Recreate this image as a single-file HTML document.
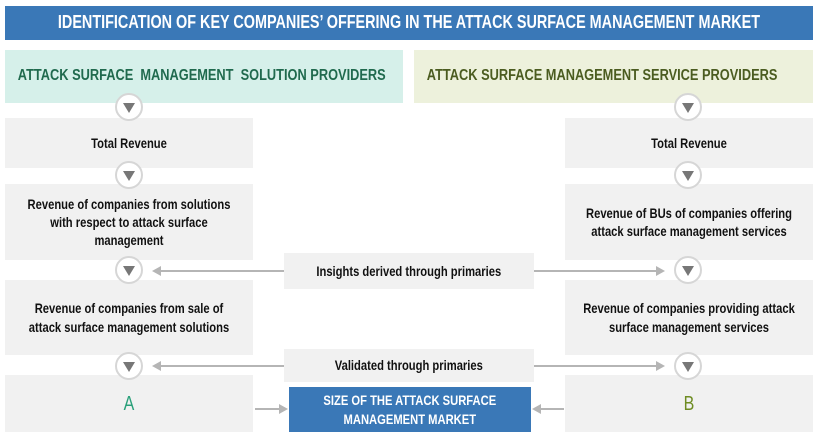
<!DOCTYPE html>
<html><head><meta charset="utf-8"><style>
*{margin:0;padding:0;box-sizing:border-box}
body{width:819px;height:436px;background:#fff;position:relative;overflow:hidden;font-family:"Liberation Sans",sans-serif}
.b{position:absolute;overflow:hidden}
.t{position:absolute;left:0;top:0;height:100%;display:flex;align-items:center;justify-content:center;text-align:center;transform-origin:0 0;transform:scaleX(.8);font-weight:bold;line-height:1.3}
.g{background:#f1f1f1}
.c{position:absolute;width:28px;height:28px;border-radius:50%;background:#fff;border:2.5px solid #d6d6d6}
.c:after{content:"";position:absolute;left:6px;top:8px;border-left:6px solid transparent;border-right:6px solid transparent;border-top:10px solid #777}
.l{position:absolute;height:2px;background:#b5b5b5}
.al:before{content:"";position:absolute;left:-8px;top:-4px;border-top:5px solid transparent;border-bottom:5px solid transparent;border-right:9px solid #b5b5b5}
.ar:after{content:"";position:absolute;right:-8px;top:-4px;border-top:5px solid transparent;border-bottom:5px solid transparent;border-left:9px solid #b5b5b5}
</style></head><body>
<div class="b" style="left:5px;top:6px;width:808px;height:34px;background:#3a78b7"><div class="t" style="width:1010px;color:#fff;font-size:18px">IDENTIFICATION OF KEY COMPANIES’ OFFERING IN THE ATTACK SURFACE MANAGEMENT MARKET</div></div>
<div class="b" style="left:5px;top:50px;width:398px;height:53px;background:#d6f0ea"><div class="t" style="width:497px;justify-content:flex-start;padding-left:16px;color:#206a4e;font-size:16px">ATTACK SURFACE&nbsp; MANAGEMENT&nbsp; SOLUTION PROVIDERS</div></div>
<div class="b" style="left:414px;top:50px;width:399px;height:53px;background:#edf1dc"><div class="t" style="width:499px;justify-content:flex-start;padding-left:16px;color:#4b5c20;font-size:16px">ATTACK SURFACE MANAGEMENT SERVICE PROVIDERS</div></div>

<div class="b g" style="left:5px;top:118px;width:248px;height:50px"><div class="t" style="width:310px;font-size:14px;color:#111">Total Revenue</div></div>
<div class="b g" style="left:5px;top:184px;width:248px;height:76px"><div class="t" style="width:310px;font-size:14px;color:#111">Revenue of companies from solutions<br>with respect to attack surface<br>management</div></div>
<div class="b g" style="left:5px;top:280px;width:248px;height:75px"><div class="t" style="width:310px;font-size:14px;color:#111">Revenue of companies from sale of<br>attack surface management solutions</div></div>
<div class="b g" style="left:5px;top:375px;width:248px;height:57px"><div class="t" style="width:310px;font-size:20px;font-weight:normal;color:#2aa07a">A</div></div>

<div class="b g" style="left:565px;top:118px;width:248px;height:50px"><div class="t" style="width:310px;font-size:14px;color:#111">Total Revenue</div></div>
<div class="b g" style="left:565px;top:184px;width:248px;height:76px"><div class="t" style="width:310px;font-size:14px;color:#111">Revenue of BUs of companies offering<br>attack surface management services</div></div>
<div class="b g" style="left:565px;top:280px;width:248px;height:75px"><div class="t" style="width:310px;font-size:14px;color:#111">Revenue of companies providing attack<br>surface management services</div></div>
<div class="b g" style="left:565px;top:375px;width:248px;height:57px"><div class="t" style="width:310px;font-size:20px;font-weight:normal;color:#6e8c22">B</div></div>

<div class="b g" style="left:284px;top:253px;width:250px;height:36px"><div class="t" style="width:312px;font-size:14px;color:#111">Insights derived through primaries</div></div>
<div class="b g" style="left:284px;top:349px;width:250px;height:33px"><div class="t" style="width:312px;font-size:14px;color:#111">Validated through primaries</div></div>
<div class="b" style="left:289px;top:387px;width:242px;height:45px;background:#3a78b7"><div class="t" style="width:302px;font-size:14px;color:#fff">SIZE OF THE ATTACK SURFACE<br>MANAGEMENT MARKET</div></div>

<div class="l al" style="left:160px;top:270px;width:124px"></div>
<div class="l ar" style="left:534px;top:270px;width:123px"></div>
<div class="l al" style="left:160px;top:365px;width:124px"></div>
<div class="l ar" style="left:534px;top:365px;width:123px"></div>
<div class="l ar" style="left:255px;top:408px;width:25px"></div>
<div class="l al" style="left:540px;top:408px;width:24px"></div>

<div class="c" style="left:115px;top:93px"></div>
<div class="c" style="left:115px;top:161px"></div>
<div class="c" style="left:115px;top:256px"></div>
<div class="c" style="left:115px;top:352px"></div>
<div class="c" style="left:674px;top:93px"></div>
<div class="c" style="left:674px;top:161px"></div>
<div class="c" style="left:674px;top:256px"></div>
<div class="c" style="left:674px;top:352px"></div>
</body></html>
